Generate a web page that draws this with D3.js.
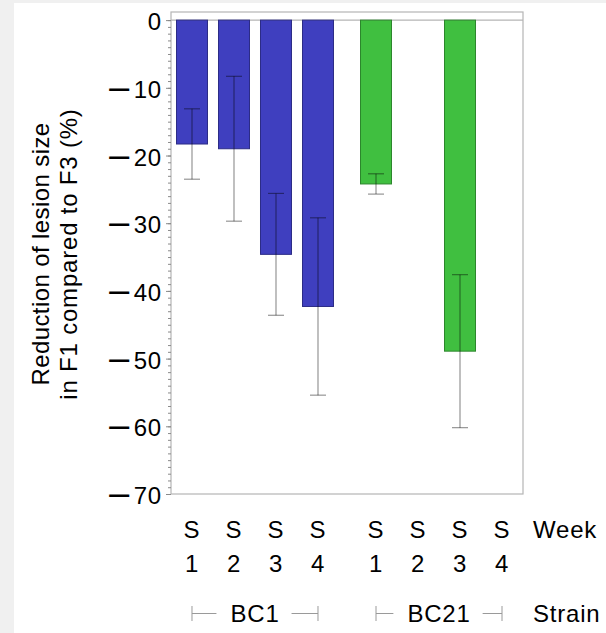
<html>
<head>
<style>
  body { margin: 0; background: #f0f0f0; }
  svg { display: block; }
  text { font-family: "Liberation Sans", Arial, sans-serif; fill: #000; }
  .lbl { font-size: 24px; letter-spacing: 0.8px; }
  .axis path { display: none; }
  .axis line { stroke: #8a8a8a; }
</style>
</head>
<body>
<svg id="chart" width="606" height="633"></svg>
<script src="https://d3js.org/d3.v7.min.js"></script>
<script>
// data
var strains = ['BC1', 'BC21'];
var weeks = ['1', '2', '3', '4'];
var bc1Means = [-18.3, -19.0, -34.6, -42.3];
var bc1Errors = [5.2, 10.7, 9.0, 13.1];
var bc21Means = [-24.2, null, -48.9, null];
var bc21Errors = [1.5, null, 11.3, null];
var yTicks = [0, -10, -20, -30, -40, -50, -60, -70];
var colors = { BC1: '#3f3fbf', BC21: '#40bf40' };
var borders = { BC1: '#2c2c86', BC21: '#2c862c' };

var rows = [];
strains.forEach(function(s) {
  var means = s === 'BC1' ? bc1Means : bc21Means;
  var errs = s === 'BC1' ? bc1Errors : bc21Errors;
  weeks.forEach(function(w, i) {
    rows.push({ strain: s, week: w, mean: means[i], err: errs[i] });
  });
});

var plotLeft = 171, plotRight = 523, plotTop = 12, plotBottom = 494;

var svg = d3.select('#chart');
svg.append('rect').attr('x', 14).attr('y', 3).attr('width', 606).attr('height', 633).attr('fill', '#fff');

var y = d3.scaleLinear().domain([-70, 1.2]).range([plotBottom, plotTop]);
var x0 = d3.scaleBand().domain(strains).range([plotLeft, plotRight]).paddingInner(0.087).paddingOuter(0);
var x1 = d3.scaleBand().domain(weeks).range([0, x0.bandwidth()]).paddingInner(0.262).paddingOuter(0.131);
function cx(d) { return x0(d.strain) + x1(d.week) + x1.bandwidth() / 2; }

// frame and zero line
svg.append('rect')
  .attr('x', plotLeft).attr('y', plotTop)
  .attr('width', plotRight - plotLeft).attr('height', plotBottom - plotTop)
  .attr('fill', 'none').attr('stroke', '#b5b5b5').attr('stroke-width', 1.2);
svg.append('line')
  .attr('x1', plotLeft).attr('x2', plotRight)
  .attr('y1', y(0)).attr('y2', y(0))
  .attr('stroke', '#b5b5b5').attr('stroke-width', 1.2);

// minor ticks
svg.append('g').attr('class', 'axis')
  .attr('transform', 'translate(' + plotLeft + ',0)')
  .call(d3.axisLeft(y).tickValues(d3.range(-70, 1, 1)).tickSize(3).tickFormat(''));

// major ticks and labels
var yAxis = svg.append('g').attr('class', 'axis')
  .attr('transform', 'translate(' + plotLeft + ',0)')
  .call(d3.axisLeft(y).tickValues(yTicks).tickSize(5).tickPadding(4).tickFormat(d3.format('d')));

yAxis.selectAll('text')
  .attr('class', 'lbl')
  .attr('fill', '#000')
  .attr('dy', null)
  .each(function(d) {
    var t = d3.select(this);
    t.text('');
    if (d < 0) {
      t.append('tspan').attr('font-family', 'DejaVu Sans')
        .attr('font-size', '32px').attr('dy', '11.5px').text('\u2212');
      t.append('tspan').attr('dy', '-2px').text(Math.abs(d));
    } else {
      t.append('tspan').attr('dy', '9.5px').text(d);
    }
  });

// bars
var data = rows.filter(function(d) { return d.mean !== null; });
svg.append('g').selectAll('rect')
  .data(data)
  .enter()
  .append('rect')
  .attr('x', function(d) { return x0(d.strain) + x1(d.week); })
  .attr('width', x1.bandwidth())
  .attr('y', y(0))
  .attr('height', function(d) { return y(d.mean) - y(0); })
  .attr('fill', function(d) { return colors[d.strain]; })
  .attr('stroke', function(d) { return borders[d.strain]; })
  .attr('stroke-width', 1);

// error bars
var eg = svg.append('g').attr('stroke', 'rgba(0,0,0,0.42)').attr('stroke-width', 1.2);
eg.selectAll('line.v')
  .data(data).enter().append('line').attr('class', 'v')
  .attr('x1', cx).attr('x2', cx)
  .attr('y1', function(d) { return y(d.mean + d.err); })
  .attr('y2', function(d) { return y(d.mean - d.err); });
[1, -1].forEach(function(sign) {
  eg.selectAll('line.c' + (sign > 0 ? 'u' : 'd'))
    .data(data).enter().append('line')
    .attr('x1', function(d) { return cx(d) - 8; })
    .attr('x2', function(d) { return cx(d) + 8; })
    .attr('y1', function(d) { return y(d.mean + sign * d.err); })
    .attr('y2', function(d) { return y(d.mean + sign * d.err); });
});

// week labels
var wl = svg.append('g').selectAll('g')
  .data(rows).enter().append('g');
wl.append('text').attr('class', 'lbl').attr('text-anchor', 'middle')
  .attr('x', cx).attr('y', 538).text('S');
wl.append('text').attr('class', 'lbl').attr('text-anchor', 'middle')
  .attr('x', cx).attr('y', 572).text(function(d) { return d.week; });
svg.append('text').attr('class', 'lbl').attr('x', 533).attr('y', 538).text('Week');

// strain labels with brackets
strains.forEach(function(s) {
  var a = x0(s) + x1(weeks[0]) + x1.bandwidth() / 2;
  var b = x0(s) + x1(weeks[weeks.length - 1]) + x1.bandwidth() / 2;
  var mid = (a + b) / 2;
  var t = svg.append('text').attr('class', 'lbl').attr('text-anchor', 'middle')
    .attr('x', mid).attr('y', 622).text(s);
  var w = t.node().getComputedTextLength();
  var g = svg.append('g').attr('stroke', '#9a9a9a').attr('stroke-width', 1);
  g.append('line').attr('x1', a).attr('x2', a).attr('y1', 606).attr('y2', 621);
  g.append('line').attr('x1', b).attr('x2', b).attr('y1', 606).attr('y2', 621);
  g.append('line').attr('x1', a).attr('x2', mid - w / 2 - 14).attr('y1', 613.5).attr('y2', 613.5);
  g.append('line').attr('x1', mid + w / 2 + 12).attr('x2', b).attr('y1', 613.5).attr('y2', 613.5);
});
svg.append('text').attr('class', 'lbl').attr('x', 533).attr('y', 622).text('Strain');

// y title
var ymid = (plotTop + plotBottom) / 2 + 1;
svg.append('text').attr('class', 'lbl').attr('text-anchor', 'middle')
  .attr('transform', 'translate(49,' + ymid + ') rotate(-90)')
  .style('letter-spacing', '0.4px')
  .text('Reduction of lesion size');
svg.append('text').attr('class', 'lbl').attr('text-anchor', 'middle')
  .attr('transform', 'translate(77,' + ymid + ') rotate(-90)')
  .text('in F1 compared to F3 (%)');
</script>
</body>
</html>
